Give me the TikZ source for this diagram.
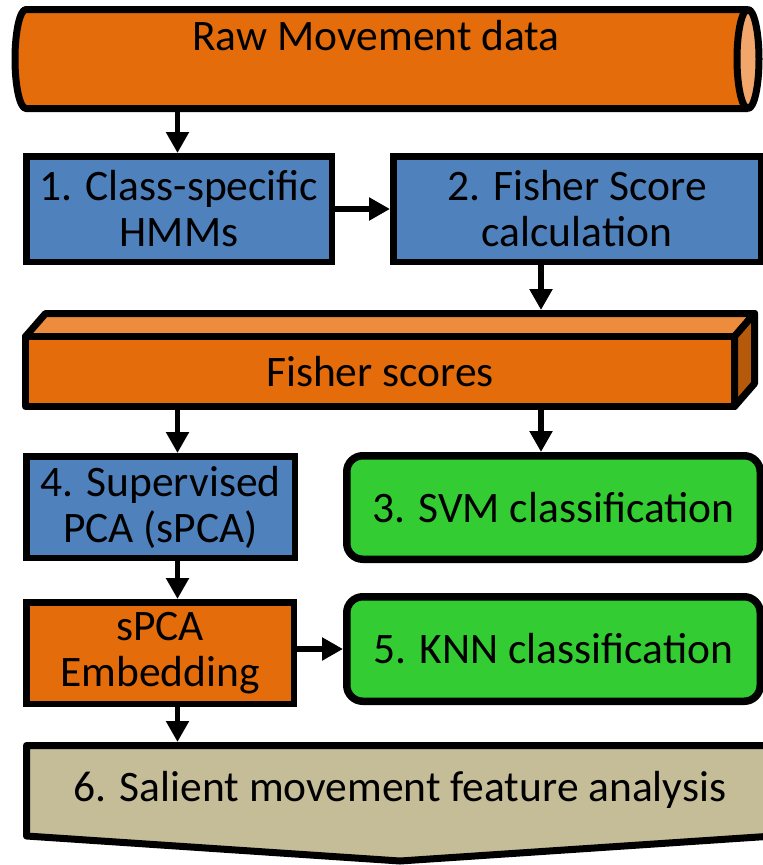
\documentclass[tikz,border=0pt]{standalone}
\usepackage{fontspec}
\setmainfont{Carlito}
\usetikzlibrary{arrows.meta}
\definecolor{boxorange}{HTML}{E46C0A}
\definecolor{orangetop}{HTML}{EC8C3C}
\definecolor{orangeside}{HTML}{B55A0A}
\definecolor{cylend}{HTML}{F2A66C}
\definecolor{boxblue}{HTML}{4F81BD}
\definecolor{boxgreen}{HTML}{33CC33}
\definecolor{boxtan}{HTML}{C4BD97}
\begin{document}
\begin{tikzpicture}[x=1pt,y=-1pt,
  every node/.style={font=\fontsize{43.5pt}{46pt}\selectfont, align=center,
    inner sep=0pt, text=black},
  hidden/.style={draw=none, outer sep=0pt, rectangle},
  bluebox/.style={rectangle, draw=black, fill=boxblue, line width=6.5pt},
  orangebox/.style={rectangle, draw=black, fill=boxorange, line width=6.5pt},
  greenbox/.style={rectangle, draw=black, fill=boxgreen, line width=7.5pt,
    rounded corners=16pt},
  heavy/.style={draw=black, line width=7pt, line join=round},
  arr/.style={draw=black, line width=5.5pt,
    -{Triangle[length=21pt,width=22pt]}}
]
\useasboundingbox (0,0) rectangle (763,865);
\clip (0,0) rectangle (763,865);

% columns used by the vertical connectors
\coordinate (colL) at (177.5,0);
\coordinate (colR) at (541,0);

% raw data cylinder
\fill[boxorange] (748,9.5) -- (26,9.5)
  arc[start angle=90, end angle=270, x radius=11pt, y radius=49.5pt]
  -- (748,108.5) -- cycle;
\draw[heavy] (748,9.5) -- (26,9.5)
  arc[start angle=90, end angle=270, x radius=11pt, y radius=49.5pt]
  -- (748,108.5);
\filldraw[heavy, fill=cylend] (748,59) ellipse[x radius=11pt, y radius=49.5pt];
\node[hidden, minimum width=750pt, minimum height=106pt] (raw) at (387,59) {};
\node[anchor=base] (rawlabel) at (376,50) {Raw Movement data};

% processing steps
\node[bluebox, minimum width=305.5pt, minimum height=105.5pt] (hmm) at (179,209)
  {1. Class-specific\\HMMs};
\node[bluebox, minimum width=367.5pt, minimum height=105.5pt] (fs) at (577,209)
  {2. Fisher Score\\calculation};

% Fisher scores block
\filldraw[heavy, fill=orangetop] (25.5,336.5) -- (45.5,313.5) -- (754.5,313.5)
  -- (734.5,336.5) -- cycle;
\filldraw[heavy, fill=orangeside] (734.5,336.5) -- (754.5,313.5) -- (754.5,383.5)
  -- (734.5,406.5) -- cycle;
\filldraw[heavy, fill=boxorange] (25.5,336.5) rectangle (734.5,406.5);
\node[hidden, minimum width=736pt, minimum height=100pt] (scoresbox) at (390,360) {};
\node (scores) at (380,371.5) {Fisher scores};

\node[bluebox, minimum width=268.5pt, minimum height=101.5pt] (spca) at (160.5,507)
  {4. Supervised\\PCA (sPCA)};
\node[greenbox, minimum width=413.5pt, minimum height=103.5pt] (svm) at (553.5,507.5)
  {3. SVM classification};
\node[orangebox, minimum width=267.5pt, minimum height=101.5pt] (embed) at (160,653)
  {sPCA\\Embedding};
\node[greenbox, minimum width=413.5pt, minimum height=104.5pt] (knn) at (553.5,649)
  {5. KNN classification};

% final analysis block
\filldraw[heavy, fill=boxtan] (26.5,745.5) -- (773.5,745.5) -- (773.5,836)
  -- (400,861) -- (26.5,836) -- cycle;
\node[hidden, minimum width=747pt, minimum height=96pt] (salient) at (400,790)
  {6. Salient movement feature analysis};

% connectors
\draw[arr] (raw.south -| colL) -- (hmm.north -| colL);
\draw[arr] (hmm) -- (fs);
\draw[arr] (fs.south -| colR) -- (scoresbox.north -| colR);
\draw[arr] (scoresbox.south -| colL) -- (spca.north -| colL);
\draw[arr] (scoresbox.south -| colR) -- (svm.north -| colR);
\draw[arr] (spca.south -| colL) -- (embed.north -| colL);
\draw[arr] (embed.east |- knn.west) -- (knn.west);
\draw[arr] (embed.south -| colL) -- (salient.north -| colL);
\end{tikzpicture}
\end{document}
